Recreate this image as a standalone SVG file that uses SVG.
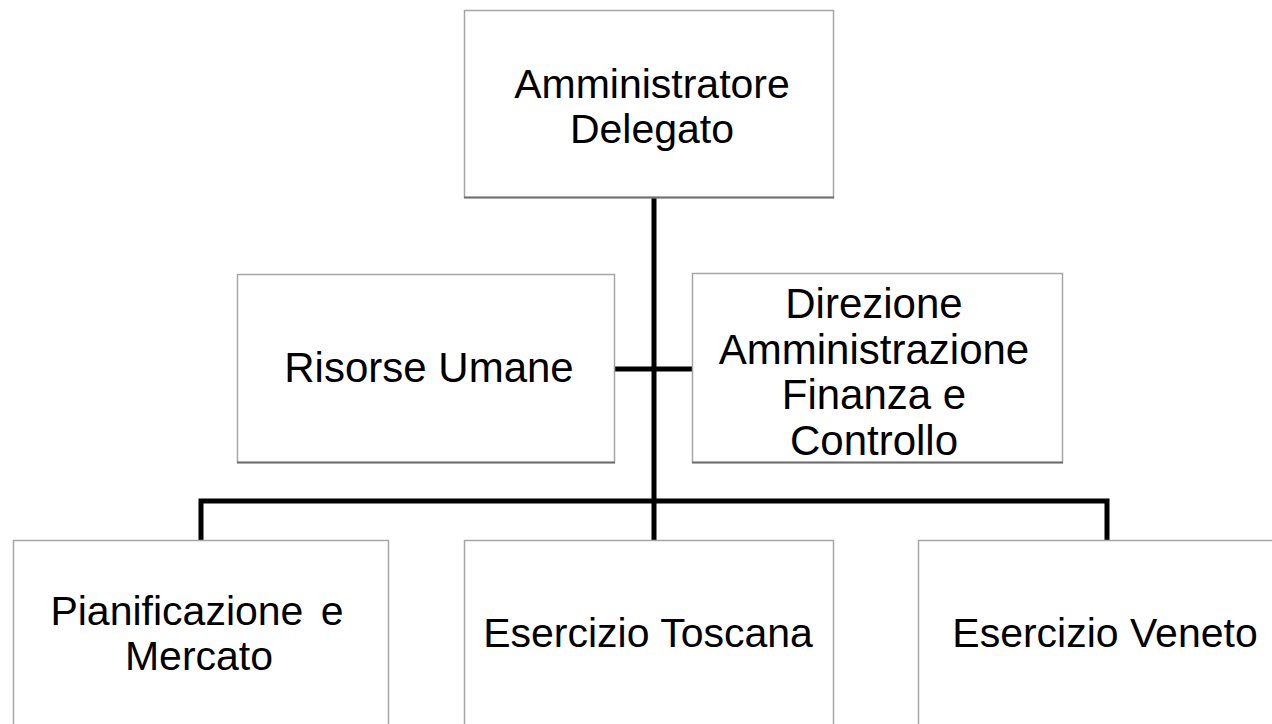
<svg xmlns="http://www.w3.org/2000/svg" width="1272" height="724" viewBox="0 0 1272 724">
<style>
.box{fill:#ffffff;stroke:#a6a6a6;stroke-width:1.5}
.shadow{stroke:#707070;stroke-width:2}
.lbl{font-family:"Liberation Sans",Arial,sans-serif;font-size:41px;fill:#000;text-anchor:middle}
.big{font-size:42px}
.conn{fill:none;stroke:#000;stroke-width:5;stroke-linejoin:miter;stroke-linecap:butt}
</style>
<rect width="1272" height="724" fill="#ffffff"/>
<g id="connectors">
<line class="conn" x1="654" y1="197" x2="654" y2="540"/>
<line class="conn" x1="615" y1="369" x2="692" y2="369"/>
<path class="conn" d="M201 540 V501 H1107 V540"/>
</g>
<g id="ceo">
<rect class="box" x="464.5" y="10.5" width="369" height="187"/>
<line class="shadow" x1="464" y1="197.5" x2="834" y2="197.5"/>
<text class="lbl" x="652" y="98">Amministratore</text>
<text class="lbl" x="652" y="143">Delegato</text>
</g>
<g id="hr">
<rect class="box" x="237.5" y="274.5" width="377" height="188"/>
<line class="shadow" x1="237" y1="462.5" x2="615" y2="462.5"/>
<text class="lbl big" x="429" y="382">Risorse Umane</text>
</g>
<g id="afc">
<rect class="box" x="692.5" y="273.5" width="370" height="189"/>
<line class="shadow" x1="692" y1="462.5" x2="1063" y2="462.5"/>
<text class="lbl big" x="874" y="318">Direzione</text>
<text class="lbl big" x="874" y="364">Amministrazione</text>
<text class="lbl big" x="874" y="409">Finanza e</text>
<text class="lbl big" x="874" y="455">Controllo</text>
</g>
<g id="pianificazione">
<rect class="box" x="13.5" y="540.5" width="375" height="200"/>
<text class="lbl" x="197" y="625" word-spacing="6">Pianificazione e</text>
<text class="lbl" x="199" y="670">Mercato</text>
</g>
<g id="toscana">
<rect class="box" x="464.5" y="540.5" width="369" height="200"/>
<text class="lbl" x="648" y="647">Esercizio Toscana</text>
</g>
<g id="veneto">
<rect class="box" x="918.5" y="540.5" width="375" height="200"/>
<text class="lbl" x="1105" y="647">Esercizio Veneto</text>
</g>
</svg>
